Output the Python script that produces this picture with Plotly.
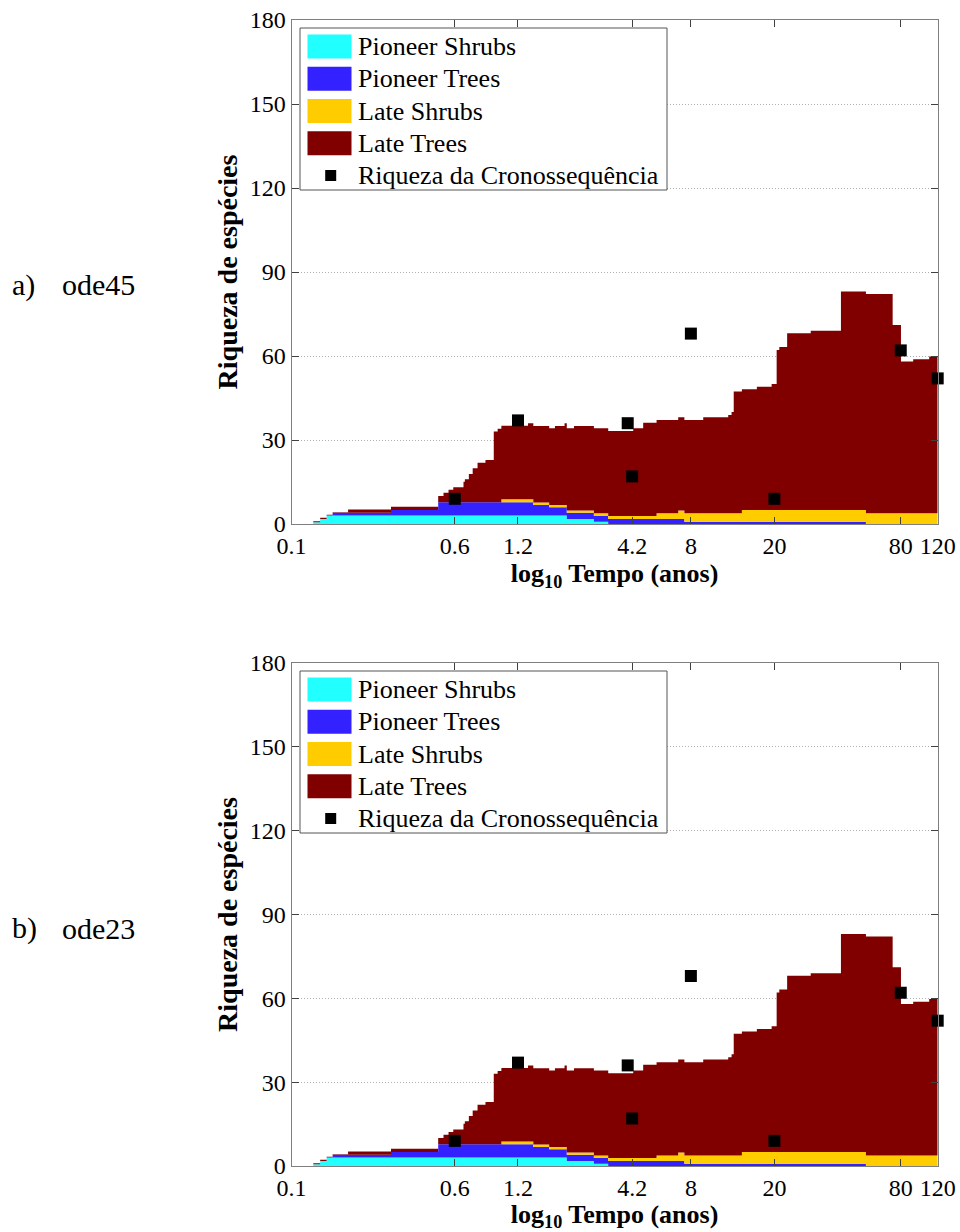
import math
import plotly.graph_objects as go

# Step edges of the simulated richness (years) and the species count of each
# functional group from that time until the next edge.
tempo = [0.1, 0.127, 0.137, 0.147, 0.157, 0.186, 0.298, 0.5, 0.53, 0.56,
         0.59, 0.66, 0.67, 0.70, 0.73, 0.77, 0.84, 0.92, 0.96, 1.0,
         1.34, 1.42, 1.69, 1.80, 2.0, 2.05, 2.22, 2.76, 3.23, 4.25,
         4.74, 5.49, 6.96, 7.45, 9.16, 12.05, 12.5, 12.8, 14.0, 16.5,
         19.4, 20.5, 21.1, 23.0, 29.8, 41.5, 54.6, 73.2, 80.2, 91.7,
         109.3, 120]

pioneer_shrubs = [0, 0.6, 1.8] + [3] * 22 + [1.8, 1.8, 0.8] + [0] * 24
pioneer_trees = ([0, 0, 0, 0, 1, 1, 2] + [4.8] * 14 + [3.8] + [3.0] * 3
                 + [2.2, 2.2, 2.1] + [1.8] * 5 + [0.8] * 13 + [0] * 6)
late_shrubs = ([0] * 19 + [1.0, 1.0, 0.9] + [0.8] * 5 + [0.9] + [1.1] * 3
               + [2.0] + [3.0] * 6 + [4.2] * 8 + [3.8] * 6)
late_trees = [0, 0.4, 0.4, 0.3, 0.2, 1.2, 1.2, 2.2, 3.4, 4.4,
              5.3, 7.3, 8.2, 10.1, 12.1, 14.1, 15.1, 25.2, 26.2, 26.3,
              27.2, 27.3, 27.4, 28.2, 29.2, 29.4, 30.2, 30.4, 30.3, 31.3,
              33.3, 33.3, 33.3, 33.3, 34.3, 35.1, 36.2, 43.5, 43.1, 44.0,
              45.0, 57.1, 58.2, 63.1, 64.0, 78.0, 78.3, 67.3, 54.2, 55.0,
              56.0, 56.0]

# Observed richness along the chronosequence
cron_tempo = [0.6, 1.2, 4.0, 4.2, 8, 20, 80, 120]
cron_riqueza = [9, 37, 36, 17, 68, 9, 62, 52]

x_tickvals = [0.1, 0.6, 1.2, 4.2, 8, 20, 80, 120]
x_ticktext = ["0.1", "0.6", "1.2", "4.2", "8", "20", "80", "120"]
y_tickvals = [0, 30, 60, 90, 120, 150, 180]

series_names = ["Pioneer Shrubs", "Pioneer Trees", "Late Shrubs", "Late Trees"]
series_colors = ["#22ffff", "#3322ff", "#ffcc00", "#800000"]
series_values = [pioneer_shrubs, pioneer_trees, late_shrubs, late_trees]
marker_name = "Riqueza da Cronossequência"
panel_tags = ["a)", "b)"]
solver_names = ["ode45", "ode23"]

FONT = "Liberation Serif, Times New Roman, serif"
W, H = 960, 1232
X0, X1 = 291.5, 937.7
panels = [(20, 524), (663, 1166)]
label_y = [285, 928]


def fx(p):
    return p / W


def fy(p):
    return 1 - p / H


fig = go.Figure()
shapes = []
annotations = []

for k, (top, bottom) in enumerate(panels):
    sfx = "" if k == 0 else str(k + 1)
    xa, ya = "x" + sfx, "y" + sfx
    for name, vals, col in zip(series_names, series_values, series_colors):
        fig.add_trace(go.Scatter(
            x=tempo, y=vals, name=name, mode="lines",
            line=dict(width=0, shape="hv", color=col),
            fillcolor=col, stackgroup="grp%d" % k,
            xaxis=xa, yaxis=ya, showlegend=False, hoverinfo="skip"))
    fig.add_trace(go.Scatter(
        x=cron_tempo, y=cron_riqueza, name=marker_name, mode="markers",
        marker=dict(symbol="square", size=12, color="black"),
        cliponaxis=False, xaxis=xa, yaxis=ya, showlegend=False))

    axis_style = dict(
        showline=True, linecolor="#7f7f7f", linewidth=1, mirror="ticks",
        ticks="inside", ticklen=7, tickcolor="#404040", zeroline=False,
        tickfont=dict(family=FONT, size=24, color="black"), automargin=False)
    fig.update_layout(**{
        "xaxis" + sfx: dict(
            axis_style, type="log", range=[-1, math.log10(120)],
            tickmode="array", tickvals=x_tickvals, ticktext=x_ticktext,
            showgrid=False, domain=[fx(X0), fx(X1)], anchor=ya,
            title=dict(text="log<sub>10</sub> Tempo (anos)",
                       font=dict(family=FONT, size=26, color="black",
                                 weight="bold"),
                       standoff=6)),
        "yaxis" + sfx: dict(
            axis_style, range=[0, 180], tickmode="array",
            tickvals=y_tickvals, showgrid=True, gridcolor="#b0b0b0",
            griddash="1px,2px", gridwidth=1, domain=[fy(bottom), fy(top)],
            anchor=xa,
            title=dict(text="Riqueza de espécies",
                       font=dict(family=FONT, size=28, color="black",
                                 weight="bold"),
                       standoff=3)),
    })

    # legend box
    shapes.append(dict(type="rect", xref="paper", yref="paper",
                       x0=fx(300), x1=fx(667), y0=fy(top + 170), y1=fy(top + 8),
                       fillcolor="white", line=dict(color="#555555", width=1),
                       layer="above"))
    for i, label in enumerate(series_names + [marker_name]):
        cy = top + 26.5 + 32.25 * i
        if i < len(series_names):
            shapes.append(dict(type="rect", xref="paper", yref="paper",
                               x0=fx(307.5), x1=fx(351.5),
                               y0=fy(cy + 12), y1=fy(cy - 12),
                               fillcolor=series_colors[i],
                               line=dict(width=0), layer="above"))
        else:
            shapes.append(dict(type="rect", xref="paper", yref="paper",
                               x0=fx(325.2), x1=fx(336.2),
                               y0=fy(cy + 5.5), y1=fy(cy - 5.5),
                               fillcolor="black", line=dict(width=0),
                               layer="above"))
        annotations.append(dict(xref="paper", yref="paper", x=fx(355.5),
                                y=fy(cy), xanchor="left", yanchor="middle",
                                text=label, showarrow=False,
                                font=dict(family=FONT, size=26, color="black")))

    annotations.append(dict(xref="paper", yref="paper", x=fx(10), y=fy(label_y[k]),
                            xanchor="left", yanchor="middle",
                            text=panel_tags[k], showarrow=False,
                            font=dict(family=FONT, size=30, color="black")))
    annotations.append(dict(xref="paper", yref="paper", x=fx(60), y=fy(label_y[k]),
                            xanchor="left", yanchor="middle",
                            text=solver_names[k], showarrow=False,
                            font=dict(family=FONT, size=30, color="black")))

fig.update_layout(
    width=W, height=H, margin=dict(l=0, r=0, t=0, b=0),
    paper_bgcolor="white", plot_bgcolor="white",
    showlegend=False, shapes=shapes, annotations=annotations,
    font=dict(family=FONT, color="black"))

fig.write_html("out.html")
